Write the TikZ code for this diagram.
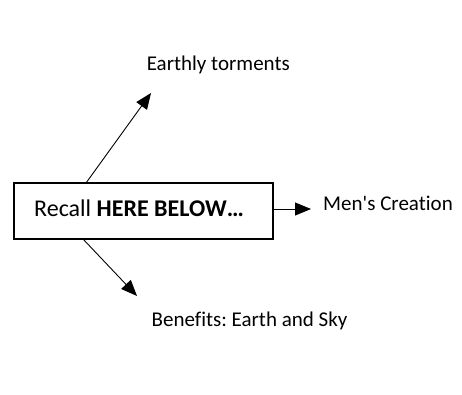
\documentclass[tikz,border=0pt]{standalone}
\usepackage{fontspec}
\setmainfont{Carlito}[Ligatures={NoCommon}]
\usetikzlibrary{arrows.meta}
\frenchspacing
\begin{document}
\begin{tikzpicture}[x=1pt,y=-1pt,
  every node/.style={font=\fontsize{21}{25}\selectfont, inner sep=0pt},
  mainbox/.style={draw, line width=1.6pt, minimum width=259pt, minimum height=56pt},
  boxtext/.style={anchor=base, font=\fontsize{24}{28}\selectfont},
  label/.style={anchor=base},
  link/.style={line width=0.9pt, -{Triangle[length=16pt,width=13pt]}}]
  \useasboundingbox (0,0) rectangle (462,394);
  \node[mainbox] (box) at (143.5,211) {};
  \node[boxtext] (txt) at (139,216.5) {Recall \textbf{HERE BELOW…}};
  \node[label] (top) at (218.3,70.7) {Earthly torments};
  \node[label] (right) at (388,210.7) {Men\textquotesingle s Creation};
  \node[label] (bottom) at (249.5,326.7) {Benefits: Earth and Sky};
  \coordinate (topA) at (86,183);
  \coordinate (topB) at (151,93);
  \coordinate (botA) at (83,239);
  \coordinate (botB) at (137,296);
  \coordinate (rightB) at (311,209);
  \draw[link] (topA) -- (topB);
  \draw[link] (botA) -- (botB);
  \draw[link] (box.east |- rightB) -- (rightB);
\end{tikzpicture}
\end{document}
